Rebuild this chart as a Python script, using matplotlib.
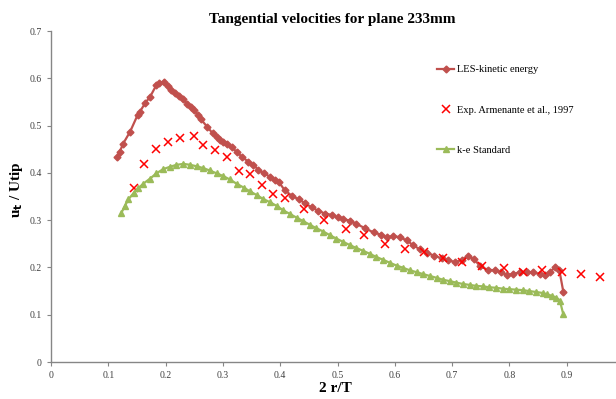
import matplotlib.pyplot as plt
from matplotlib.ticker import FuncFormatter

# LES-kinetic energy
les_x = [0.116, 0.120, 0.126, 0.138, 0.151, 0.155, 0.164, 0.173, 0.184, 0.189,
         0.197, 0.205, 0.210, 0.216, 0.223, 0.230, 0.238, 0.244, 0.250, 0.256,
         0.262, 0.272, 0.282, 0.289, 0.295, 0.301, 0.307, 0.315, 0.324, 0.333,
         0.344, 0.353, 0.362, 0.372, 0.382, 0.391, 0.398, 0.408, 0.420, 0.432,
         0.443, 0.455, 0.466, 0.478, 0.490, 0.500, 0.510, 0.522, 0.533, 0.548,
         0.563, 0.576, 0.586, 0.597, 0.609, 0.621, 0.632, 0.644, 0.657, 0.669,
         0.682, 0.693, 0.705, 0.717, 0.727, 0.739, 0.749, 0.763, 0.775, 0.786,
         0.795, 0.807, 0.818, 0.830, 0.842, 0.853, 0.862, 0.871, 0.880, 0.887,
         0.894]
les_y = [0.433, 0.445, 0.462, 0.487, 0.522, 0.529, 0.547, 0.561, 0.586, 0.590,
         0.593, 0.583, 0.576, 0.568, 0.562, 0.556, 0.546, 0.540, 0.533, 0.523,
         0.513, 0.498, 0.484, 0.476, 0.469, 0.465, 0.461, 0.454, 0.445, 0.434,
         0.424, 0.417, 0.406, 0.399, 0.392, 0.385, 0.380, 0.363, 0.352, 0.344,
         0.336, 0.327, 0.320, 0.314, 0.311, 0.306, 0.302, 0.299, 0.292, 0.283,
         0.274, 0.269, 0.264, 0.266, 0.264, 0.257, 0.247, 0.238, 0.230, 0.225,
         0.219, 0.216, 0.211, 0.216, 0.224, 0.217, 0.202, 0.195, 0.194, 0.190,
         0.184, 0.186, 0.190, 0.190, 0.190, 0.186, 0.184, 0.191, 0.200, 0.195,
         0.149]

# Exp. Armenante et al., 1997
exp_x = [0.144, 0.163, 0.184, 0.204, 0.225, 0.250, 0.266, 0.287, 0.307, 0.328,
         0.347, 0.369, 0.388, 0.408, 0.442, 0.477, 0.514, 0.547, 0.582, 0.617,
         0.651, 0.684, 0.718, 0.753, 0.790, 0.823, 0.857, 0.892, 0.925, 0.958]
exp_y = [0.369, 0.418, 0.450, 0.466, 0.473, 0.478, 0.459, 0.448, 0.433, 0.403,
         0.397, 0.374, 0.356, 0.346, 0.323, 0.300, 0.281, 0.268, 0.249, 0.240,
         0.232, 0.219, 0.211, 0.202, 0.198, 0.191, 0.195, 0.191, 0.186, 0.179]

# k-e Standard
ke_x = [0.123, 0.129, 0.135, 0.144, 0.152, 0.161, 0.173, 0.184, 0.196, 0.208,
        0.219, 0.231, 0.243, 0.254, 0.266, 0.277, 0.289, 0.301, 0.312, 0.324,
        0.336, 0.347, 0.359, 0.370, 0.382, 0.394, 0.405, 0.417, 0.429, 0.440,
        0.452, 0.463, 0.475, 0.487, 0.498, 0.510, 0.522, 0.533, 0.545, 0.556,
        0.568, 0.580, 0.591, 0.603, 0.615, 0.626, 0.638, 0.649, 0.661, 0.673,
        0.684, 0.696, 0.707, 0.719, 0.731, 0.742, 0.754, 0.765, 0.777, 0.789,
        0.800, 0.812, 0.823, 0.835, 0.847, 0.858, 0.866, 0.874, 0.882, 0.888,
        0.894]
ke_y = [0.316, 0.330, 0.344, 0.357, 0.367, 0.377, 0.388, 0.399, 0.408, 0.413,
        0.417, 0.419, 0.417, 0.414, 0.410, 0.405, 0.399, 0.393, 0.386, 0.377,
        0.369, 0.361, 0.353, 0.345, 0.338, 0.330, 0.321, 0.313, 0.305, 0.298,
        0.290, 0.283, 0.276, 0.268, 0.261, 0.254, 0.247, 0.241, 0.235, 0.229,
        0.222, 0.216, 0.210, 0.204, 0.199, 0.194, 0.190, 0.186, 0.182, 0.178,
        0.174, 0.171, 0.168, 0.165, 0.163, 0.161, 0.160, 0.158, 0.157, 0.155,
        0.154, 0.153, 0.152, 0.150, 0.148, 0.146, 0.143, 0.140, 0.136, 0.130,
        0.101]

xticks = [0, 0.1, 0.2, 0.3, 0.4, 0.5, 0.6, 0.7, 0.8, 0.9]
yticks = [0, 0.1, 0.2, 0.3, 0.4, 0.5, 0.6, 0.7]

plt.rcParams['font.family'] = ['Liberation Serif', 'DejaVu Serif']

fig = plt.figure(figsize=(6.16, 3.99), dpi=100)
ax = fig.add_axes([0.0828, 0.0927, 0.9172, 0.8296])

ax.plot(les_x, les_y, color='#C0504D', lw=1.6, marker='D', ms=3.5,
        label='LES-kinetic energy')
ax.plot(exp_x, exp_y, ls='none', color='#FF0000', marker='x', ms=6, mew=1.1,
        label='Exp. Armenante et al., 1997')
ax.plot(ke_x, ke_y, color='#9BBB59', lw=1.6, marker='^', ms=5,
        label='k-e Standard')

ax.set_xlim(0, 0.986)
ax.set_ylim(0, 0.7)
ax.set_xticks(xticks)
ax.set_yticks(yticks)
fmt = FuncFormatter(lambda v, p: '0' if v == 0 else '%g' % v)
ax.xaxis.set_major_formatter(fmt)
ax.yaxis.set_major_formatter(fmt)
ax.tick_params(direction='out', length=3, width=0.8, color='#868686',
               labelsize=7, labelcolor='#404040')

for s in ['top', 'right']:
    ax.spines[s].set_visible(False)
for s in ['left', 'bottom']:
    ax.spines[s].set_color('#868686')
    ax.spines[s].set_linewidth(1.0)

# titles placed in figure coords so nothing gets clipped
fig.text(0.54, 0.952, 'Tangential velocities for plane 233mm', fontsize=11,
         fontweight='bold', ha='center', va='center')
fig.text(0.545, 0.027, '2 r/T', fontsize=11, fontweight='bold',
         ha='center', va='center')
fig.text(0.026, 0.525, r'u$_\mathbf{t}$ / Utip', fontsize=11, fontweight='bold',
         rotation=90, ha='center', va='center')

ax.legend(loc='upper left', bbox_to_anchor=(0.667, 0.925), frameon=False,
          fontsize=7.5, labelspacing=2.95, handlelength=1.6, handletextpad=0.3)

fig.savefig('out.png', dpi=100)
